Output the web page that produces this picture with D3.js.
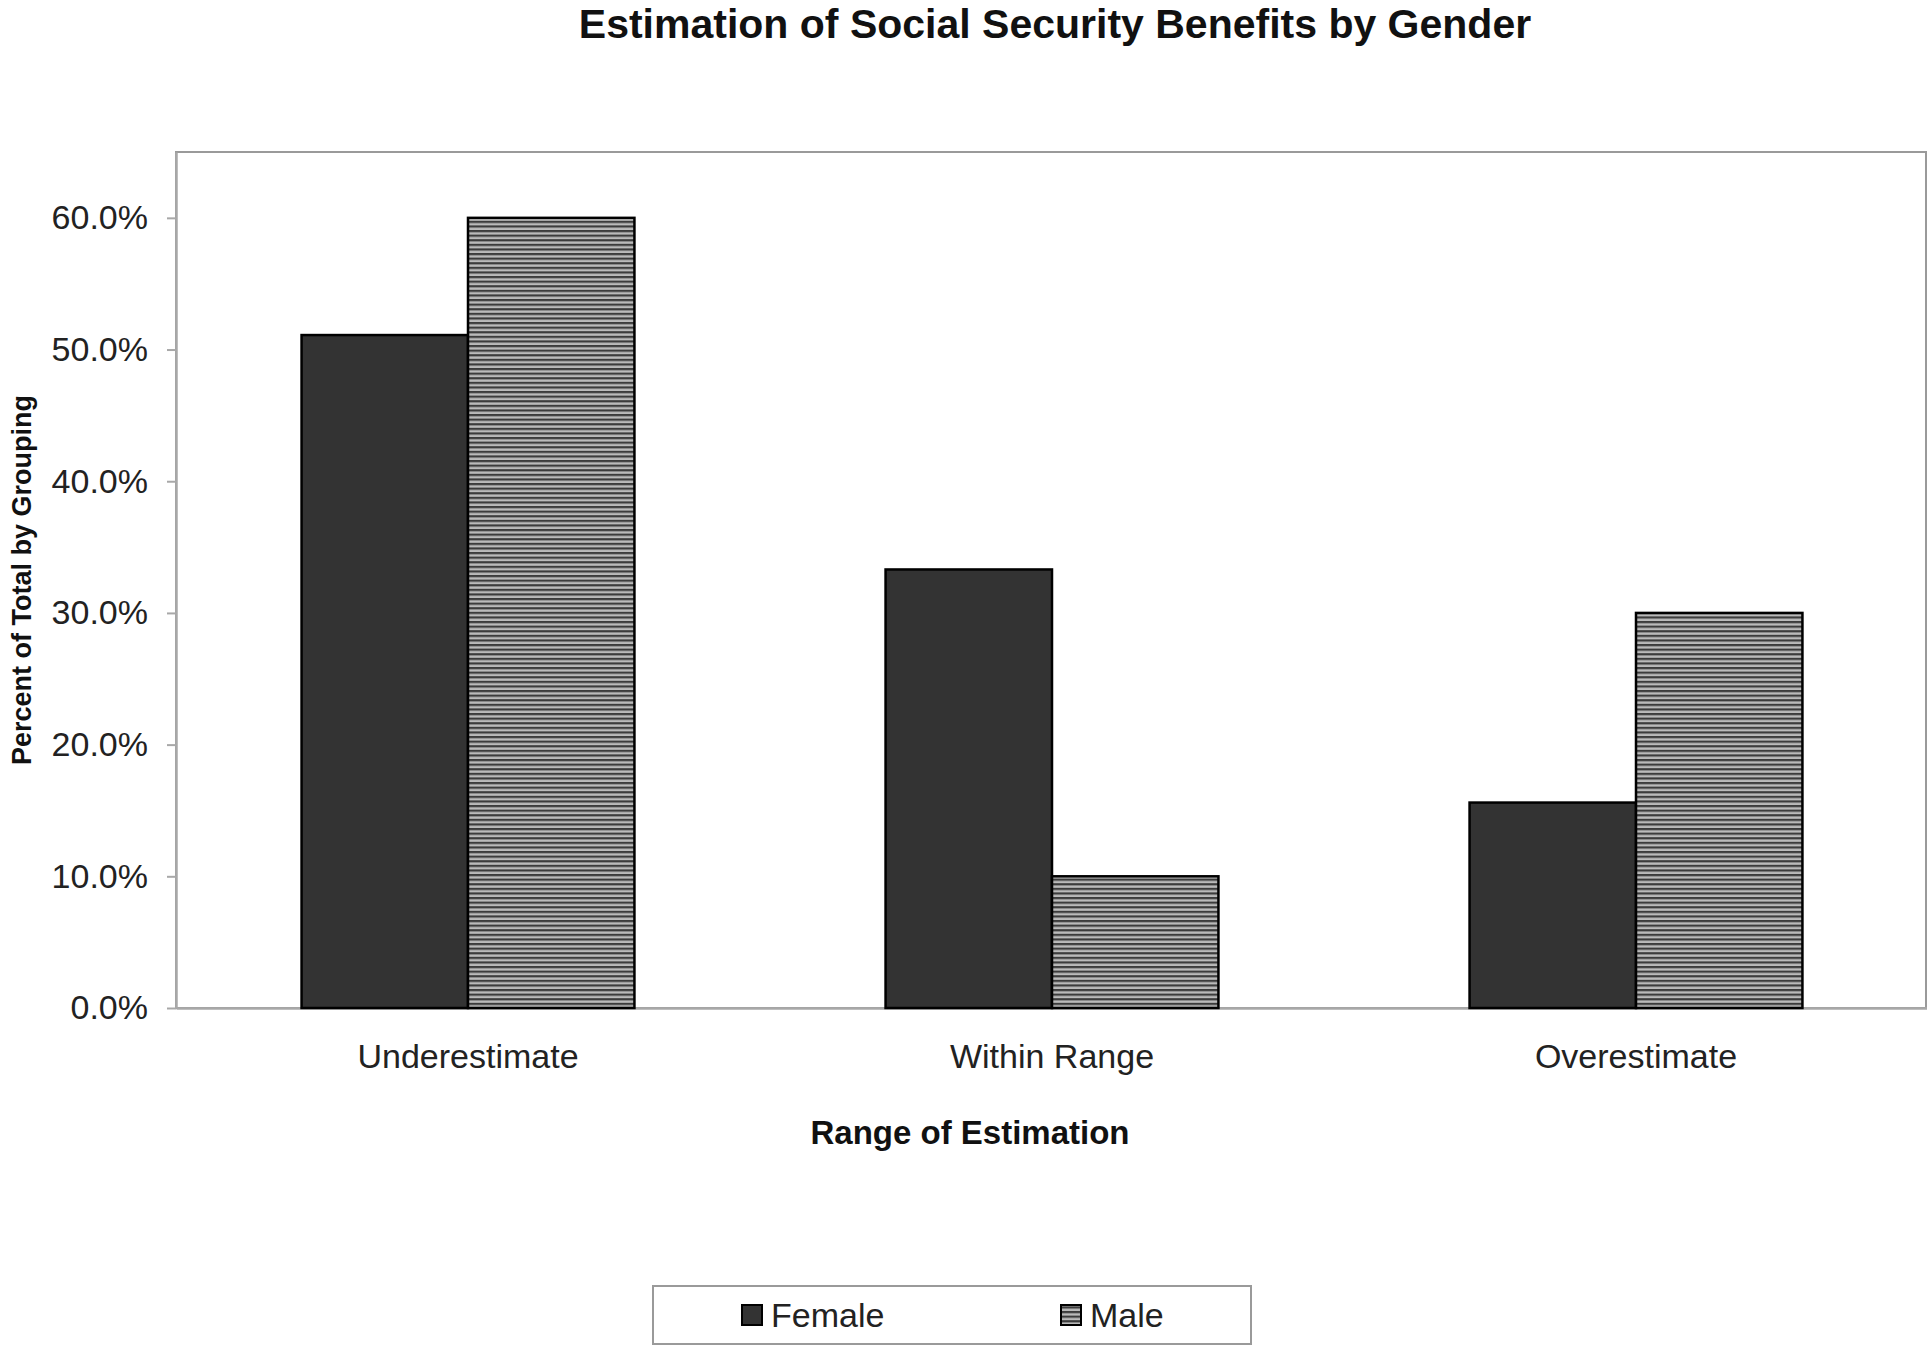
<!DOCTYPE html>
<html>
<head>
<meta charset="utf-8">
<script src="https://cdn.jsdelivr.net/npm/d3@7"></script>
<style>
  html, body { margin: 0; padding: 0; background: #fff; }
  svg { display: block; font-family: "Liberation Sans", Arial, Helvetica, sans-serif; }
</style>
</head>
<body>
<svg id="chart" width="1927" height="1347"></svg>
<script>
// ---- data ----
const categories = ["Underestimate", "Within Range", "Overestimate"];
const seriesNames = ["Female", "Male"];
const femaleValues = [0.511, 0.333, 0.156];
const maleValues = [0.600, 0.100, 0.300];
const yTicks = [0, 0.1, 0.2, 0.3, 0.4, 0.5, 0.6];
const titleText = "Estimation of Social Security Benefits by Gender";
const xTitle = "Range of Estimation";
const yTitle = "Percent of Total by Grouping";

const seriesValues = { Female: femaleValues, Male: maleValues };

// ---- layout ----
const plot = { left: 176, right: 1926, top: 152, bottom: 1008 };

const svg = d3.select("#chart");

// pattern for male bars
const defs = svg.append("defs");
const pat = defs.append("pattern")
  .attr("id", "hatch")
  .attr("patternUnits", "userSpaceOnUse")
  .attr("width", 8).attr("height", 4.6);
pat.append("rect").attr("width", 8).attr("height", 4.6).attr("fill", "#bababa");
pat.append("rect").attr("y", 0).attr("width", 8).attr("height", 2.2).attr("fill", "#3c3c3c");

const fills = { Female: "#333333", Male: "url(#hatch)" };

// scales
const x0 = d3.scaleBand()
  .domain(categories)
  .range([plot.left, plot.left + 1752])
  .paddingInner(0.43)
  .paddingOuter(0.215);
const x1 = d3.scaleBand()
  .domain(seriesNames)
  .range([0, x0.bandwidth()]);
const y = d3.scaleLinear().domain([0, 0.65]).range([plot.bottom, plot.top]);

// plot border
svg.append("rect")
  .attr("x", plot.left).attr("y", plot.top)
  .attr("width", plot.right - plot.left).attr("height", plot.bottom - plot.top)
  .attr("fill", "none").attr("stroke", "#9a9a9a").attr("stroke-width", 2);

// y axis
const yAxis = d3.axisLeft(y).tickValues(yTicks).tickFormat(d3.format(".1%"))
  .tickSizeInner(9).tickSizeOuter(0).tickPadding(19);
const yg = svg.append("g").attr("transform", `translate(${plot.left},0)`).call(yAxis);
yg.select(".domain").attr("stroke", "#a8a8a8").attr("stroke-width", 2.5);
yg.selectAll(".tick line").attr("stroke", "#a8a8a8").attr("stroke-width", 2);
yg.selectAll(".tick text")
  .attr("font-size", 34).attr("fill", "#222")
  .attr("font-family", "Liberation Sans, Arial, sans-serif");

// x axis
const xAxis = d3.axisBottom(x0).tickSize(0).tickPadding(36);
const xg = svg.append("g").attr("transform", `translate(0,${plot.bottom})`).call(xAxis);
xg.select(".domain").attr("stroke", "#a8a8a8").attr("stroke-width", 2.5);
xg.selectAll(".tick text")
  .attr("font-size", 34).attr("fill", "#222")
  .attr("font-family", "Liberation Sans, Arial, sans-serif");

// bars
const groups = svg.append("g").selectAll("g")
  .data(categories)
  .join("g")
  .attr("transform", d => `translate(${x0(d)},0)`);

groups.selectAll("rect")
  .data((c, i) => seriesNames.map(s => ({ s, v: seriesValues[s][i] })))
  .join("rect")
  .attr("x", d => x1(d.s))
  .attr("y", d => y(d.v))
  .attr("width", x1.bandwidth())
  .attr("height", d => y(0) - y(d.v))
  .attr("fill", d => fills[d.s])
  .attr("stroke", "#000")
  .attr("stroke-width", 2.5);

// title
svg.append("text")
  .attr("x", 1055).attr("y", 38)
  .attr("text-anchor", "middle")
  .attr("font-size", 41).attr("font-weight", "bold").attr("fill", "#111")
  .text(titleText);

// x title
svg.append("text")
  .attr("x", 970).attr("y", 1144)
  .attr("text-anchor", "middle")
  .attr("font-size", 33).attr("font-weight", "bold").attr("fill", "#111")
  .text(xTitle);

// y title
svg.append("text")
  .attr("transform", `translate(31,${(plot.top + plot.bottom) / 2}) rotate(-90)`)
  .attr("text-anchor", "middle")
  .attr("font-size", 27).attr("font-weight", "bold").attr("fill", "#111")
  .text(yTitle);

// legend
const lg = svg.append("g");
lg.append("rect")
  .attr("x", 653).attr("y", 1286).attr("width", 598).attr("height", 58)
  .attr("fill", "#fff").attr("stroke", "#9a9a9a").attr("stroke-width", 2);
const legendX = [742, 1061];
seriesNames.forEach((s, i) => {
  lg.append("rect")
    .attr("x", legendX[i]).attr("y", 1305).attr("width", 20).attr("height", 20)
    .attr("fill", fills[s]).attr("stroke", "#000").attr("stroke-width", 2);
  lg.append("text")
    .attr("x", legendX[i] + 29).attr("y", 1327)
    .attr("font-size", 34).attr("fill", "#222")
    .text(s);
});
</script>
</body>
</html>
